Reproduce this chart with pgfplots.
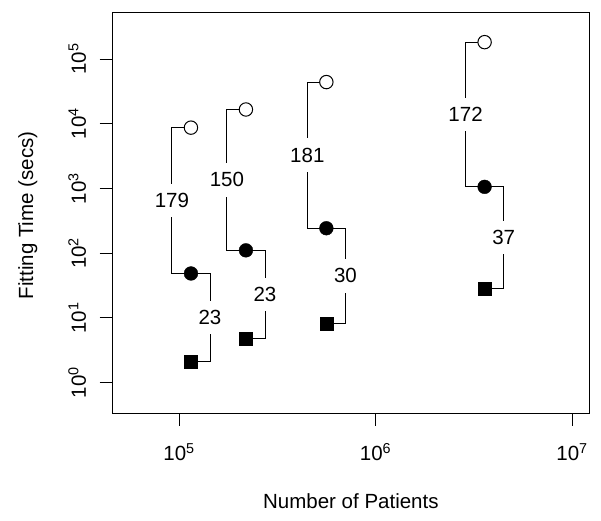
\documentclass[border=0pt]{standalone}
\usepackage{fontspec}
\setmainfont{Liberation Sans}
\usepackage{pgfplots}
\pgfplotsset{compat=1.18}
\begin{document}
\begin{tikzpicture}
\begin{axis}[
  at={(112bp,107.7bp)}, anchor=south west,
  scale only axis, width=477.7bp, height=401.3bp,
  xmode=log, ymode=log,
  xmin=45600, xmax=1.23e7, ymin=0.3365, ymax=532000,
  clip=false,
  font=\fontsize{20.5bp}{24bp}\selectfont,
  axis line style={line width=0.9bp},
  tick style={line width=0.9bp, black},
  tick align=outside, major tick length=12.5bp,
  tick pos=left,
  xminorticks=false, yminorticks=false,
  xtick={1e5,1e6,1e7},
  xticklabels={10\textsuperscript{5},10\textsuperscript{6},10\textsuperscript{7}},
  ytick={1,10,100,1000,10000,100000},
  yticklabels={10\textsuperscript{0},10\textsuperscript{1},10\textsuperscript{2},10\textsuperscript{3},10\textsuperscript{4},10\textsuperscript{5}},
  xticklabel style={yshift=-14bp},
  yticklabel style={xshift=-10bp, rotate=90, anchor=south},
  xlabel={Number of Patients}, ylabel={Fitting Time (secs)},
  every axis x label/.style={at={(axis description cs:0.5,0)}, anchor=base, yshift=-94.7bp},
  every axis y label/.style={at={(axis description cs:0,0.5)}, xshift=-79bp, yshift=-2.8bp, rotate=90, anchor=base},
]
% brackets open -> filled (left)
\addplot[black, line width=0.9bp] coordinates {(1.15e5,8700) (92000,8700) (92000,48.6) (1.15e5,48.6)};
\addplot[black, line width=0.9bp] coordinates {(2.19e5,16600) (175200,16600) (175200,110.7) (2.19e5,110.7)};
\addplot[black, line width=0.9bp] coordinates {(5.62e5,44000) (449600,44000) (449600,243) (5.62e5,243)};
\addplot[black, line width=0.9bp] coordinates {(3.59e6,182000) (2872000,182000) (2872000,1059) (3.59e6,1059)};
% brackets filled -> square (right)
\addplot[black, line width=0.9bp] coordinates {(1.15e5,48.6) (143750,48.6) (143750,2.12) (1.15e5,2.12)};
\addplot[black, line width=0.9bp] coordinates {(2.19e5,110.7) (273750,110.7) (273750,4.75) (2.19e5,4.75)};
\addplot[black, line width=0.9bp] coordinates {(5.62e5,243) (702500,243) (702500,8.2) (5.62e5,8.2)};
\addplot[black, line width=0.9bp] coordinates {(3.59e6,1059) (4487500,1059) (4487500,28.5) (3.59e6,28.5)};
% ratio labels
\addplot[draw=none, nodes near coords, point meta=explicit symbolic,
  every node near coord/.append style={anchor=center, fill=white, inner xsep=1bp, inner ysep=9.5bp, font=\fontsize{20.5bp}{24bp}\selectfont}]
  table[meta=lab] {
x y lab
92000 650.2 179
175200 1355.6 150
449600 3269.9 181
2872000 13883 172
143750 10.15 23
273750 22.93 23
702500 44.64 30
4487500 173.7 37
};
% markers
\addplot[only marks, mark=*, mark size=6.7bp, mark options={fill=white, draw=black, line width=1bp}] coordinates {
(1.15e5,8700) (2.19e5,16600) (5.62e5,44000) (3.59e6,182000)};
\addplot[only marks, mark=*, mark size=6.9bp, mark options={fill=black, draw=black}] coordinates {
(1.15e5,48.6) (2.19e5,110.7) (5.62e5,243) (3.59e6,1059)};
\addplot[only marks, mark=square*, mark size=6.5bp, mark options={fill=black, draw=black}] coordinates {
(1.15e5,2.12) (2.19e5,4.75) (5.62e5,8.2) (3.59e6,28.5)};
\end{axis}
\pgfresetboundingbox
\path[use as bounding box] (0,0) rectangle (601bp,521bp);
\end{tikzpicture}
\end{document}
